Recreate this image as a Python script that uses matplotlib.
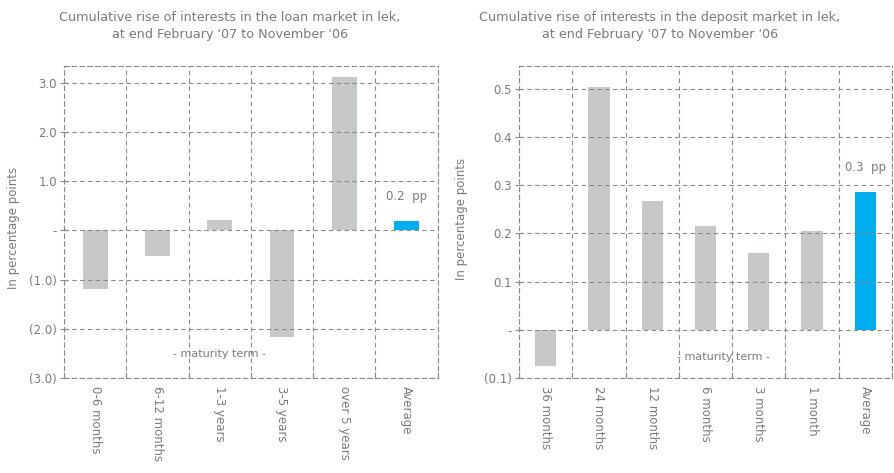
import matplotlib
matplotlib.use("Agg")
import matplotlib.pyplot as plt
import numpy as np

plt.rcParams['font.family'] = ['DejaVu Sans']

# Loan market (left panel)
loan_categories = ["0-6 months", "6-12 months", "1-3 years", "3-5 years", "over 5 years", "Average"]
loan_values = [-1.2, -0.52, 0.22, -2.17, 3.11, 0.19]
loan_yticks = [-3.0, -2.0, -1.0, 0.0, 1.0, 2.0, 3.0]
loan_yticklabels = ["(3.0)", "(2.0)", "(1.0)", "-", "1.0", "2.0", "3.0"]
loan_title = "Cumulative rise of interests in the loan market in lek,\nat end February '07 to November '06"

# Deposit market (right panel)
dep_categories = ["36 months", "24 months", "12 months", "6 months", "3 months", "1 month", "Average"]
dep_values = [-0.076, 0.505, 0.268, 0.216, 0.159, 0.206, 0.287]
dep_yticks = [-0.1, 0.0, 0.1, 0.2, 0.3, 0.4, 0.5]
dep_yticklabels = ["(0.1)", "-", "0.1", "0.2", "0.3", "0.4", "0.5"]
dep_title = "Cumulative rise of interests in the deposit market in lek,\nat end February '07 to November '06"

GREY_BAR = "#c7c8ca"
BLUE_BAR = "#00aeef"
GRID = "#8a8a8a"
TEXT = "#7a7a7a"

fig = plt.figure(figsize=(8.94, 4.73), dpi=100)


def panel(rect, cats, vals, yticks, yticklabels, ylim, note, note_y, term_pos):
    ax = fig.add_axes(rect)
    n = len(cats)
    x = np.arange(n)
    colors = [GREY_BAR] * (n - 1) + [BLUE_BAR]
    ax.bar(x, vals, width=0.4, color=colors, zorder=1)
    ax.set_xlim(-0.5, n - 0.5)
    ax.set_ylim(*ylim)

    ax.set_yticks(yticks)
    ax.set_yticklabels(yticklabels)
    ax.set_xticks(x)
    ax.set_xticklabels(cats, rotation=270, va="top", ha="center")
    ax.set_xticks(np.arange(n + 1) - 0.5, minor=True)

    ax.tick_params(axis="x", which="major", length=0, pad=6, labelsize=8.5, labelcolor=TEXT)
    ax.tick_params(axis="x", which="minor", direction="in", length=4, color=GRID, width=0.8)
    ax.tick_params(axis="y", which="major", direction="inout", length=6, color=GRID,
                   width=0.8, labelsize=8.5, labelcolor=TEXT, pad=2)

    for yv in yticks:
        ax.axhline(yv, color=GRID, lw=0.8, ls=(0, (4, 3)), zorder=2)
    for xv in np.arange(n + 1) - 0.5:
        ax.axvline(xv, color=GRID, lw=0.8, ls=(0, (4, 3)), zorder=2)
    for sp in ax.spines.values():
        sp.set_color(GRID)
        sp.set_linewidth(0.8)
        sp.set_linestyle((0, (4, 3)))

    ax.set_ylabel("In percentage points", fontsize=8.5, color=TEXT)
    ax.text(term_pos[0], term_pos[1], "- maturity term -", ha="center", va="center",
            fontsize=8, color=TEXT, zorder=3)
    ax.text(n - 1, note_y, note, ha="center", va="center", fontsize=8.5, color=TEXT,
            zorder=3, clip_on=False)
    return ax


ax1 = panel([0.0716, 0.2008, 0.418, 0.6596], loan_categories, loan_values,
            loan_yticks, loan_yticklabels, (-3.0, 3.34),
            f"{loan_values[-1]:.1f}  pp", 0.69, (2.0, -2.52))
ax2 = panel([0.5805, 0.2014, 0.4172, 0.659], dep_categories, dep_values,
            dep_yticks, dep_yticklabels, (-0.1, 0.548),
            f"{dep_values[-1]:.1f}  pp", 0.337, (3.33, -0.056))

fig.text(0.257, 0.945, loan_title, ha="center", va="center", fontsize=9.2, color=TEXT,
         linespacing=1.35)
fig.text(0.738, 0.945, dep_title, ha="center", va="center", fontsize=9.2, color=TEXT,
         linespacing=1.35)

ax1.yaxis.set_label_coords(-0.118, 0.48)
ax2.yaxis.set_label_coords(-0.137, 0.51)

fig.savefig("out.png", dpi=100)
